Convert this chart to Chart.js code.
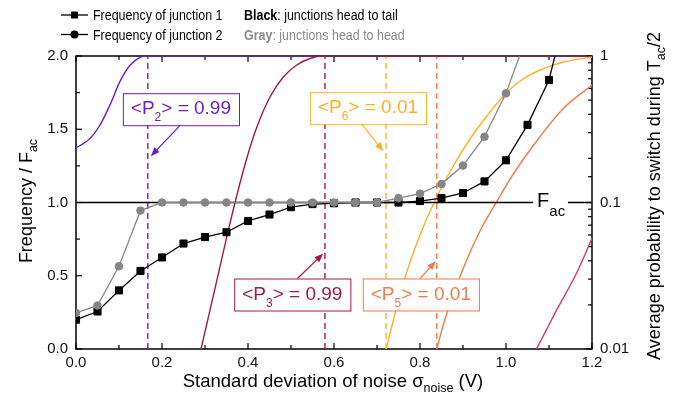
<!DOCTYPE html>
<html>
<head>
<meta charset="utf-8">
<script src="https://cdn.jsdelivr.net/npm/chart.js@4.4.0/dist/chart.umd.min.js"></script>
<style>
  body { margin: 0; background: #fff; }
  canvas { display: block; }
</style>
</head>
<body>
<canvas id="chart" width="674" height="403"></canvas>
<script>
// noise amplitude (V) where the frequencies were measured
const sigma = [0, 0.05, 0.1, 0.15, 0.2, 0.25, 0.3, 0.35, 0.4, 0.45, 0.5, 0.55,
               0.6, 0.65, 0.7, 0.75, 0.8, 0.85, 0.9, 0.95, 1.0, 1.05, 1.1, 1.15];
// black: junctions head to tail (squares), gray: head to head (circles)
const freqJ1 = [0.20, 0.256, 0.40, 0.533, 0.625, 0.72, 0.764, 0.797, 0.874, 0.918, 0.968, 0.989,
                0.995, 1.0, 1.0, 1.0, 1.01, 1.03, 1.065, 1.144, 1.288, 1.53, 1.836, 2.43];
const freqJ2 = [0.247, 0.297, 0.565, 0.945, 1.0, 1.0, 1.0, 1.0, 1.0, 1.0, 1.0, 1.0,
                1.0, 1.0, 1.0, 1.03, 1.06, 1.126, 1.252, 1.449, 1.745, 2.15];

// switching probability curves (right axis, log)
const p2X = [0, 0.009, 0.033, 0.056, 0.079, 0.102, 0.126, 0.149, 0.164, 0.25, 1.2];
const p2Y = [0.237, 0.244, 0.274, 0.338, 0.463, 0.668, 0.868, 0.98, 1, 1, 1];
const p3X = [0.2907, 0.3272, 0.3505, 0.3737, 0.397, 0.4202, 0.4512, 0.4821, 0.5133, 0.5442, 0.5751, 0.65, 1.2];
const p3Y = [0.01, 0.0291, 0.0581, 0.1108, 0.1996, 0.325, 0.525, 0.719, 0.868, 0.962, 1, 1, 1];
const p6X = [0.721, 0.761, 0.8, 0.8326, 0.8774, 0.9163, 0.9628, 1.0, 1.0326, 1.0714, 1.1333, 1.2];
const p6Y = [0.01, 0.0281, 0.060, 0.0997, 0.1774, 0.2713, 0.4147, 0.5564, 0.6754, 0.7839, 0.910, 0.98];
const p5X = [0.8388, 0.8621, 0.9047, 0.9395, 0.9784, 1.017, 1.0714, 1.1333, 1.2];
const p5Y = [0.01, 0.01747, 0.038, 0.0639, 0.1013, 0.1565, 0.263, 0.438, 0.634];
const p4X = [1.071, 1.118, 1.164, 1.2];
const p4Y = [0.01, 0.0185, 0.0329, 0.057];

// sigma where <P> hits 0.99 / 0.01
const markerX = [0.167, 0.579, 0.721, 0.839];
const facLevel = 1.0;
const facGap = [1.063, 1.144];

const purple = '#6a1fc4', crimson = '#a3174a', yellow = '#fdb022', coral = '#f07a4c', pink = '#d33a73';
const markerColors = [purple, crimson, yellow, coral];
const FONT = "'Liberation Sans', Arial, sans-serif";

const pts = (xs, ys) => ys.map((v, i) => ({ x: xs[i], y: v }));

function curve(xs, ys, color, order) {
  return {
    data: pts(xs, ys), yAxisID: 'y1', borderColor: color, borderWidth: 1.4,
    pointRadius: 0, cubicInterpolationMode: 'monotone', order: order
  };
}

const datasets = [
  {
    label: 'Frequency of junction 2', data: pts(sigma, freqJ2), yAxisID: 'y',
    borderColor: '#858585', backgroundColor: '#858585', borderWidth: 1.3,
    pointStyle: 'circle', pointRadius: 3.8, pointBorderWidth: 1, order: 1
  },
  {
    label: 'Frequency of junction 1', data: pts(sigma, freqJ1), yAxisID: 'y',
    borderColor: '#000', backgroundColor: '#000', borderWidth: 1.3,
    pointStyle: 'rect', pointRadius: 5, pointBorderWidth: 1, order: 2
  },
  {
    data: [{ x: 0, y: facLevel }, { x: facGap[0], y: facLevel }, { x: facGap[0], y: null },
           { x: facGap[1], y: facLevel }, { x: 1.2, y: facLevel }],
    yAxisID: 'y', borderColor: '#000', borderWidth: 1.3, pointRadius: 0, spanGaps: false, order: 3
  },
  curve(p4X, p4Y, pink, 4),
  curve(p5X, p5Y, coral, 5),
  curve(p6X, p6Y, yellow, 6),
  curve(p3X, p3Y, crimson, 7),
  curve(p2X, p2Y, purple, 8)
];
markerX.forEach((v, i) => datasets.push({
  data: [{ x: v, y: 0 }, { x: v, y: 2 }], yAxisID: 'y', borderColor: markerColors[i],
  borderWidth: 1.4, borderDash: [6, 4], pointRadius: 0, order: 9
}));

// boxed labels with arrows, positions in data units (x, left axis)
const notes = [
  { sub: '2', val: '0.99', color: purple, box: [0.244, 1.637], from: [0.242, 1.527], to: [0.174, 1.316] },
  { sub: '3', val: '0.99', color: crimson, box: [0.503, 0.372], from: [0.515, 0.481], to: [0.575, 0.652] },
  { sub: '6', val: '0.01', color: yellow, box: [0.679, 1.644], from: [0.664, 1.536], to: [0.715, 1.35] },
  { sub: '5', val: '0.01', color: coral, box: [0.802, 0.372], from: [0.8, 0.481], to: [0.837, 0.6] }
];

function rich(ctx, parts, x, y, align) {
  let w = 0;
  parts.forEach(p => { ctx.font = `${p[3] || ''} ${p[1]}px ${FONT}`; w += ctx.measureText(p[0]).width; });
  let cx = align === 'center' ? x - w / 2 : x;
  parts.forEach(p => {
    ctx.font = `${p[3] || ''} ${p[1]}px ${FONT}`;
    ctx.fillText(p[0], cx, y + (p[2] || 0));
    cx += ctx.measureText(p[0]).width;
  });
  return w;
}

function arrow(ctx, x0, y0, x1, y1, color) {
  const a = Math.atan2(y1 - y0, x1 - x0), L = 9, W = 3.5;
  const c = Math.cos(a), s = Math.sin(a);
  ctx.strokeStyle = color; ctx.fillStyle = color; ctx.lineWidth = 1.2;
  ctx.beginPath(); ctx.moveTo(x0, y0); ctx.lineTo(x1 - L * c * 0.7, y1 - L * s * 0.7); ctx.stroke();
  ctx.beginPath();
  ctx.moveTo(x1, y1);
  ctx.lineTo(x1 - L * c + W * s, y1 - L * s - W * c);
  ctx.lineTo(x1 - L * c - W * s, y1 - L * s + W * c);
  ctx.closePath(); ctx.fill();
}

function squeezed(ctx, text, x, y, font, color) {
  ctx.save();
  ctx.font = font; ctx.fillStyle = color;
  ctx.translate(x, y); ctx.scale(0.89, 1);
  ctx.fillText(text, 0, 0);
  const w = ctx.measureText(text).width * 0.89;
  ctx.restore();
  return w;
}

const decor = {
  id: 'decor',
  beforeDatasetsDraw(chart) {
    const { ctx, chartArea: a, scales: { x, y, y1 } } = chart;
    ctx.save();
    ctx.strokeStyle = '#000';
    ctx.lineWidth = 1.5;
    ctx.strokeRect(a.left, a.top, a.right - a.left, a.bottom - a.top);
    ctx.lineWidth = 1.2;
    const tick = (x0, y0, x1, y1_) => { ctx.beginPath(); ctx.moveTo(x0, y0); ctx.lineTo(x1, y1_); ctx.stroke(); };
    // x ticks bottom and top, with minors between majors
    const xv = x.ticks.map(t => t.value);
    xv.forEach((v, i) => {
      const px = x.getPixelForValue(v);
      tick(px, a.bottom, px, a.bottom - 6); tick(px, a.top, px, a.top + 6);
      if (i < xv.length - 1) {
        const pm = x.getPixelForValue((v + xv[i + 1]) / 2);
        tick(pm, a.bottom, pm, a.bottom - 4); tick(pm, a.top, pm, a.top + 4);
      }
    });
    const yv = y.ticks.map(t => t.value);
    yv.forEach((v, i) => {
      const py = y.getPixelForValue(v);
      tick(a.left, py, a.left + 6, py);
      if (i < yv.length - 1) {
        const pm = y.getPixelForValue((v + yv[i + 1]) / 2);
        tick(a.left, pm, a.left + 4, pm);
      }
    });
    y1.ticks.forEach(t => {
      const py = y1.getPixelForValue(t.value);
      const l10 = Math.log10(t.value);
      const major = Math.abs(l10 - Math.round(l10)) < 1e-6;
      tick(a.right, py, a.right - (major ? 6 : 4), py);
    });
    ctx.restore();
  },
  afterDatasetsDraw(chart) {
    const { ctx, scales: { x, y } } = chart;
    ctx.save();
    ctx.textAlign = 'left';
    ctx.textBaseline = 'alphabetic';
    // F_ac label in the gap of the reference line
    ctx.fillStyle = '#000';
    const fx = x.getPixelForValue(facGap[0]) + 4, fy = y.getPixelForValue(facLevel);
    rich(ctx, [['F', 20, 0], ['ac', 15, 9]], fx, fy + 4, 'left');

    notes.forEach(n => {
      const cx = x.getPixelForValue(n.box[0]), cy = y.getPixelForValue(n.box[1]);
      const parts = [['<P', 19, 0], [n.sub, 12, 7], ['> = ' + n.val, 19, 0]];
      let w = 0;
      parts.forEach(p => { ctx.font = `${p[1]}px ${FONT}`; w += ctx.measureText(p[0]).width; });
      const bw = w + 16, bh = 32;
      ctx.fillStyle = '#fff';
      ctx.fillRect(cx - bw / 2, cy - bh / 2, bw, bh);
      ctx.strokeStyle = n.color; ctx.lineWidth = 1;
      ctx.strokeRect(cx - bw / 2 + 0.5, cy - bh / 2 + 0.5, bw, bh);
      ctx.fillStyle = n.color;
      rich(ctx, parts, cx, cy + 5, 'center');
      arrow(ctx, x.getPixelForValue(n.from[0]), y.getPixelForValue(n.from[1]),
            x.getPixelForValue(n.to[0]), y.getPixelForValue(n.to[1]), n.color);
    });
    ctx.restore();
  },
  afterDraw(chart) {
    const { ctx } = chart;
    ctx.save();
    ctx.textAlign = 'left';
    ctx.textBaseline = 'alphabetic';
    // legend
    ctx.strokeStyle = '#000'; ctx.fillStyle = '#000'; ctx.lineWidth = 1.3;
    [15, 34.5].forEach((ly, i) => {
      ctx.beginPath(); ctx.moveTo(61, ly); ctx.lineTo(88, ly); ctx.stroke();
      ctx.beginPath();
      if (i === 0) ctx.rect(71, ly - 3.5, 7, 7);
      else ctx.arc(74.5, ly, 4, 0, Math.PI * 2);
      ctx.fill();
      squeezed(ctx, 'Frequency of junction ' + (i + 1), 93, ly + 5, `14px ${FONT}`, '#000');
    });
    let w = squeezed(ctx, 'Black', 244, 20, `bold 14px ${FONT}`, '#000');
    squeezed(ctx, ': junctions head to tail', 244 + w, 20, `14px ${FONT}`, '#000');
    w = squeezed(ctx, 'Gray', 244, 39.5, `bold 14px ${FONT}`, '#8a8a8a');
    squeezed(ctx, ': junctions head to head', 244 + w, 39.5, `14px ${FONT}`, '#8a8a8a');

    // axis titles
    ctx.fillStyle = '#000';
    rich(ctx, [['Standard deviation of noise \u03c3', 18.5, 0], ['noise', 12.5, 5], [' (V)', 18.5, 0]], 333, 387, 'center');
    ctx.save();
    ctx.translate(32, 201); ctx.rotate(-Math.PI / 2);
    rich(ctx, [['Frequency / F', 18, 0], ['ac', 12.5, 5]], 0, 0, 'center');
    ctx.restore();
    ctx.save();
    ctx.translate(660, 196); ctx.rotate(-Math.PI / 2);
    rich(ctx, [['Average probability to switch during T', 18, 0], ['ac', 12.5, 5], ['/2', 18, 0]], 0, 0, 'center');
    ctx.restore();
    ctx.restore();
  }
};

const tickFont = { family: FONT, size: 15 };

new Chart(document.getElementById('chart'), {
  type: 'line',
  data: { datasets: datasets },
  options: {
    responsive: false,
    animation: false,
    layout: { padding: { top: 56, left: 0, right: 0, bottom: 0 } },
    plugins: { legend: { display: false }, tooltip: { enabled: false } },
    scales: {
      x: {
        type: 'linear', min: 0, max: 1.2,
        grid: { display: false, drawTicks: false }, border: { display: false },
        ticks: { stepSize: 0.2, font: tickFont, color: '#111', padding: 5, maxRotation: 0,
                 callback: v => v.toFixed(1) },
        afterFit: s => { s.height = 54; }
      },
      y: {
        position: 'left', min: 0, max: 2,
        grid: { display: false, drawTicks: false }, border: { display: false },
        ticks: { stepSize: 0.5, font: tickFont, color: '#111', padding: 8,
                 callback: v => v.toFixed(1) },
        afterFit: s => { s.width = 76; }
      },
      y1: {
        type: 'logarithmic', position: 'right', min: 0.01, max: 1,
        grid: { display: false, drawTicks: false }, border: { display: false },
        ticks: {
          font: tickFont, color: '#111', padding: 8, autoSkip: false,
          callback: v => {
            const l = Math.log10(v);
            return Math.abs(l - Math.round(l)) < 1e-6 ? String(+v.toPrecision(1)) : '';
          }
        },
        afterFit: s => { s.width = 82; }
      }
    }
  },
  plugins: [decor]
});
</script>
</body>
</html>
